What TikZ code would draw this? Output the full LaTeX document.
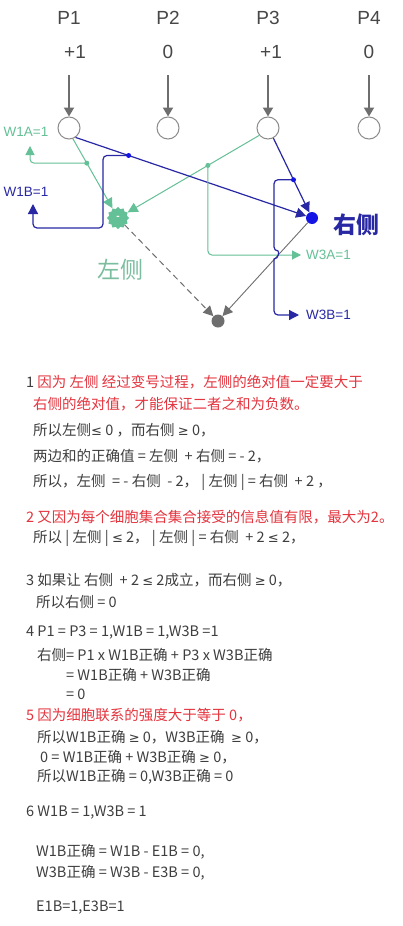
\documentclass[tikz,border=0pt]{standalone}
\usepackage{fontspec}
\setmainfont{Liberation Sans}
\newfontfamily\cjk{Noto Sans CJK SC}
\newfontfamily\symfont{DejaVu Sans}
\usepackage{xcolor}
\usepackage{tikz}
\usetikzlibrary{arrows.meta,positioning,shapes.geometric}

\definecolor{netgray}{RGB}{110,110,110}
\definecolor{mint}{RGB}{100,192,150}
\definecolor{palemint}{RGB}{160,205,188}
\definecolor{navy}{RGB}{40,40,165}
\definecolor{brightblue}{RGB}{20,20,228}
\definecolor{txtgray}{RGB}{62,62,62}
\definecolor{txtred}{RGB}{228,52,62}

\newcommand{\lesym}{{\symfont\fontsize{13}{14}\selectfont ≤}}
\newcommand{\gesym}{{\symfont\fontsize{13}{14}\selectfont ≥}}

\tikzset{
  cell/.style={circle, draw=netgray!80, line width=1pt, minimum size=22pt, inner sep=0pt, fill=white},
  head/.style={font=\fontsize{19}{20}\selectfont, text=black!72, inner sep=0pt},
  inarrow/.style={draw=netgray, line width=1.8pt, -{Triangle[length=9pt,width=10pt]}},
  gline/.style={draw=mint, line width=1pt, -{Triangle[length=9pt,width=9pt]}},
  paleline/.style={draw=palemint, line width=1pt, -{Triangle[length=10pt,width=10pt]}, mint},
  bline/.style={draw=navy, line width=1.2pt, -{Triangle[length=10pt,width=10pt]}},
  gdot/.style={circle, fill=mint, minimum size=5pt, inner sep=0pt},
  bdot/.style={circle, fill=brightblue, minimum size=5pt, inner sep=0pt},
  wlabel/.style={font=\fontsize{13.5}{14}\selectfont, inner sep=0pt},
  txt/.style={anchor=west, inner sep=0pt, font=\cjk\fontsize{14.5}{16}\selectfont, text=txtgray},
}

\begin{document}
\begin{tikzpicture}[x=1pt, y=-1pt]
\fill[white] (0,0) rectangle (403,926);
\useasboundingbox (0,0) rectangle (403,926);
% ----- inputs P1..P4 -----
\node[head] (p1) at (69,18) {P1};
\node[head] (p2) at (168,18) {P2};
\node[head] (p3) at (268,18) {P3};
\node[head] (p4) at (369,18) {P4};
\node[head] (v1) at (75,52) {+1};
\node[head] (v2) at (168,52) {0};
\node[head] (v3) at (271,52) {+1};
\node[head] (v4) at (369,52) {0};
\node[cell] (n1) at (69,128) {};
\node[cell] (n2) at (168,128) {};
\node[cell] (n3) at (268,128) {};
\node[cell] (n4) at (369,128) {};
\coordinate (s1) at (69,75);
\coordinate (s2) at (168,75);
\coordinate (s3) at (268,75);
\coordinate (s4) at (369,75);
\draw[inarrow] (s1) -- (n1);
\draw[inarrow] (s2) -- (n2);
\draw[inarrow] (s3) -- (n3);
\draw[inarrow] (s4) -- (n4);
% ----- output cells -----
\node[star, star points=12, star point ratio=1.2, minimum size=22pt, inner sep=0pt, fill=mint] (L) at (118,218) {};
\node[text=white, font=\bfseries\fontsize{10}{10}\selectfont, inner sep=0pt] (Lsign) at (L) {-};
\node[circle, fill=brightblue, minimum size=12pt, inner sep=0pt] (R) at (312,218) {};
\node[circle, fill=netgray, minimum size=13pt, inner sep=0pt] (G) at (218,321) {};
\node[font=\cjk\fontsize{23}{24}\selectfont, text=mint!90!black!80, inner sep=0pt] (Llabel) at (120,270) {左侧};
\node[font=\cjk\bfseries\fontsize{23}{24}\selectfont, text=navy, inner sep=0pt] (Rlabel) at (356,225) {右侧};
% ----- weights -----
\draw[paleline] (n1.-70) -- coordinate[pos=0.35] (a1) (L);
\draw[paleline] (n3.-140) -- coordinate[pos=0.39] (a3) (L);
\draw[bline] (n1.-55) -- coordinate[pos=0.23] (b1) (R);
\draw[bline] (n3.-62) -- coordinate[pos=0.56] (b3) (R);
\draw[draw=netgray!85, line width=1pt, dash pattern=on 6pt off 4pt, -{Triangle[length=10pt,width=10pt]}, netgray] (L) -- (G);
\draw[draw=netgray!85, line width=0.9pt, -{Triangle[length=10pt,width=10pt]}, netgray] (R) -- (G);
% ----- branch lines -----
\coordinate (w1a) at (30,146);
\coordinate (w1b) at (33,204);
\coordinate (w3a) at (301,255);
\coordinate (w3b) at (299,315);
\draw[gline, rounded corners=4] (a1) -| (w1a);
\draw[bline, rounded corners=4] (b1) -| (103,228) -| (w1b);
\draw[gline, rounded corners=4] (a3) |- (w3a);
\draw[bline] (b3) [rounded corners=4] -| (274,251) [sharp corners] .. controls (279,251) and (279,259) .. (274,259) [rounded corners=4] |- (w3b);
\node[gdot] (a1dot) at (a1) {};
\node[gdot] (a3dot) at (a3) {};
\node[bdot] (b1dot) at (b1) {};
\node[bdot] (b3dot) at (b3) {};
\node[wlabel, text=mint] (w1alabel) at (26,132) {W1A=1};
\node[wlabel, text=navy] (w1blabel) at (26,192) {W1B=1};
\node[wlabel, text=mint, anchor=west, right=5pt of w3a] (w3alabel) {W3A=1};
\node[wlabel, text=navy, anchor=west, right=7pt of w3b] (w3blabel) {W3B=1};
% ----- explanation -----
\node[txt] (t1) at (26,382) {1 \textcolor{txtred}{因为 左侧 经过变号过程，左侧的绝对值一定要大于}};
\node[txt, text=txtred] (t2) at (33,404) {右侧的绝对值，才能保证二者之和为负数。};
\node[txt] (t3) at (33,430) {所以左侧\lesym\ 0 ，而右侧 \gesym\ 0，};
\node[txt] (t4) at (33,456) {两边和的正确值 = 左侧 \ + 右侧 = - 2，};
\node[txt] (t5) at (33,482) {所以，左侧 \ = - 右侧 \ - 2，\ | 左侧 | = 右侧 \ + 2 ，};
\node[txt, text=txtred] (t6) at (26,517) {2 又因为每个细胞集合集合接受的信息值有限，最大为2。};
\node[txt] (t7) at (33,538) {所以 | 左侧 | \lesym\ 2，\ | 左侧 | = 右侧 \ + 2 \lesym\ 2，};
\node[txt] (t8) at (26,580) {3 如果让 右侧 \ + 2 \lesym\ 2成立，而右侧 \gesym\ 0，};
\node[txt] (t9) at (36,602) {所以右侧 = 0};
\node[txt] (t10) at (26,633) {4 P1 = P3 = 1,W1B = 1,W3B =1};
\node[txt] (t11) at (37,655) {右侧= P1 x W1B正确 + P3 x W3B正确};
\node[txt] (t12) at (66,675) {= W1B正确 + W3B正确};
\node[txt] (t13) at (66,694) {= 0};
\node[txt, text=txtred] (t14) at (26,715) {5 因为细胞联系的强度大于等于 0，};
\node[txt] (t15) at (37,737) {所以W1B正确 \gesym\ 0，W3B正确 \ \gesym\ 0，};
\node[txt] (t16) at (40,757) {0 = W1B正确 + W3B正确 \gesym\ 0，};
\node[txt] (t17) at (37,777) {所以W1B正确 = 0,W3B正确 = 0};
\node[txt] (t18) at (26,813) {6 W1B = 1,W3B = 1};
\node[txt] (t19) at (36,852) {W1B正确 = W1B - E1B = 0,};
\node[txt] (t20) at (36,873) {W3B正确 = W3B - E3B = 0,};
\node[txt] (t21) at (36,908) {E1B=1,E3B=1};
\end{tikzpicture}
\end{document}
